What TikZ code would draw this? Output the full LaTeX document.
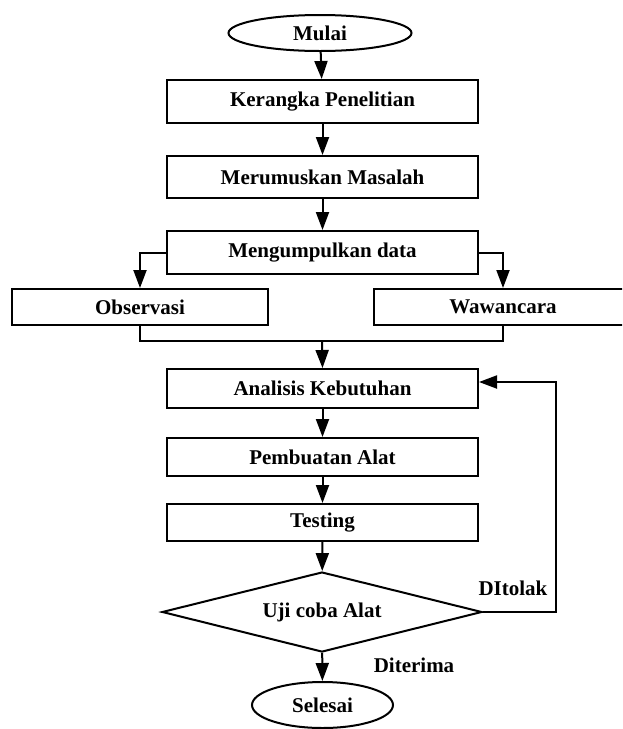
\documentclass[tikz,border=0pt]{standalone}
\usepackage{fontspec}
\setmainfont{Liberation Serif}
\usetikzlibrary{shapes.geometric,arrows.meta}
\begin{document}
\begin{tikzpicture}[x=1pt,y=-1pt,line width=2pt,
  font=\bfseries\fontsize{21}{25}\selectfont,
  box/.style={draw,rectangle,inner sep=0pt,minimum width=311pt},
  oval/.style={draw,ellipse,inner sep=0pt},
  dec/.style={draw,diamond,aspect=4,inner sep=0pt,minimum width=320pt,minimum height=80pt},
  arr/.style={-{Triangle[width=13pt,length=18pt]}},
  lbl/.style={inner sep=0pt}]
\path[use as bounding box] (0,0) rectangle (622,729);
\clip (0,0) rectangle (622,729);

\node[oval,minimum width=183pt,minimum height=36pt] (mulai) at (320,33) {Mulai};
\node[box,minimum height=43pt] (k) at (322.5,101.5) {Kerangka Penelitian};
\node[box,minimum height=42pt] (mr) at (322.5,177) {Merumuskan Masalah};
\node[box,minimum height=43pt] (mg) at (322.5,252.5) {Mengumpulkan data};
\node[box,minimum width=256pt,minimum height=36pt] (obs) at (140,307) {Observasi};
\node[box,minimum width=258pt,minimum height=36pt] (waw) at (503,307) {Wawancara};
\node[box,minimum height=39pt] (an) at (322.5,388.5) {Analisis Kebutuhan};
\node[box,minimum height=38pt] (pb) at (322.5,457) {Pembuatan Alat};
\node[box,minimum height=37pt] (ts) at (322.5,522.5) {Testing};
\node[dec] (uji) at (322,612) {Uji coba Alat};
\node[oval,minimum width=141pt,minimum height=46pt] (sel) at (322.5,705) {Selesai};

\node[lbl] (tolak) at (513,588) {DItolak};
\node[lbl] (terima) at (414,665) {Diterima};

\coordinate (mrg) at (322,341);
\coordinate (r1) at (556,612);
\coordinate (r2) at (556,382);

\draw[arr] (mulai) -- (k);
\draw[arr] (k) -- (mr);
\draw[arr] (mr) -- (mg);
\draw[arr] (mg.west) -| (obs.north);
\draw[arr] (mg.east) -| (waw.north);
\draw (obs.south) |- (mrg) -| (waw.south);
\draw[arr] (mrg) -- (an.north);
\draw[arr] (an) -- (pb);
\draw[arr] (pb) -- (ts);
\draw[arr] (ts) -- (uji);
\draw[arr] (uji) -- (sel);
\draw[arr] (uji.east) -- (r1) -- (r2) -- (r2 -| an.east);
\end{tikzpicture}
\end{document}
